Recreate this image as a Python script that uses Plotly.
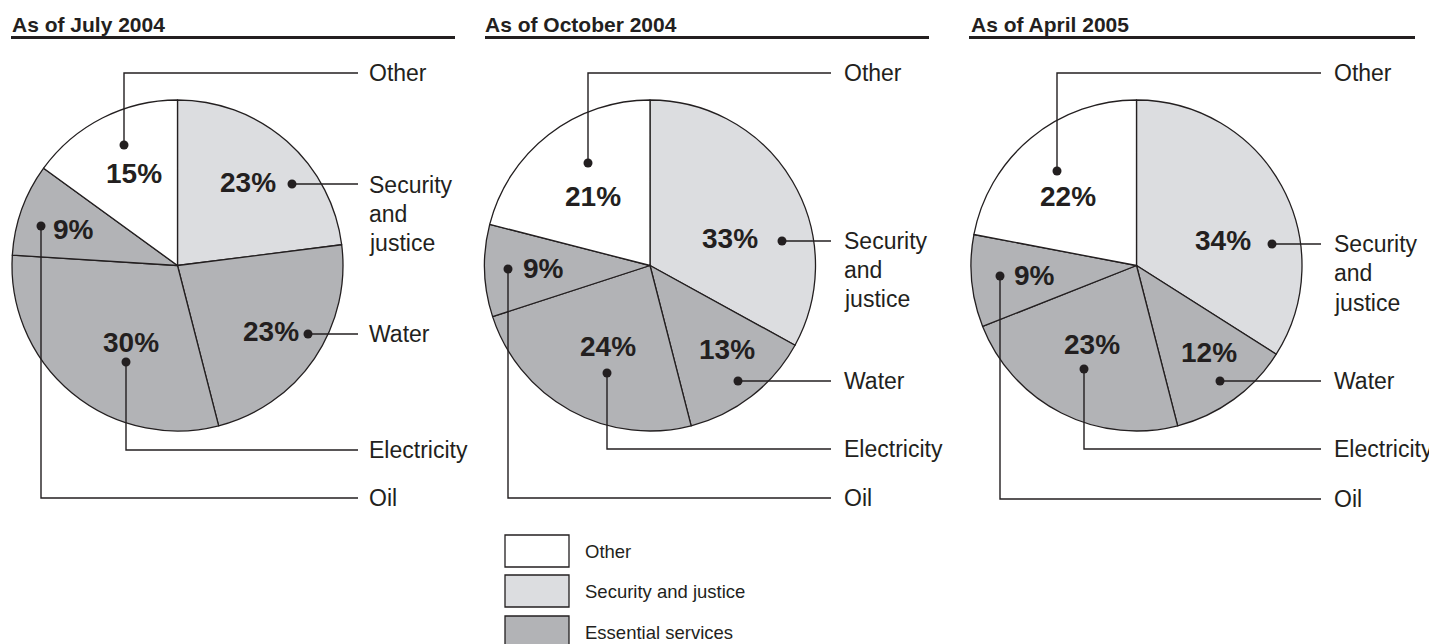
import plotly.graph_objects as go

W, H = 1437, 644
OFF = 8  # page body margin of the rendered html

# ---------------- data ----------------
categories = ["Security and justice", "Water", "Electricity", "Oil", "Other"]
label_text = ["Security<br>and<br>justice", "Water", "Electricity", "Oil", "Other"]
periods = ["As of July 2004", "As of October 2004", "As of April 2005"]
share_jul_2004 = [23, 23, 30, 9, 15]
share_oct_2004 = [33, 13, 24, 9, 21]
share_apr_2005 = [34, 12, 23, 9, 22]
legend_items = ["Other", "Security and justice", "Essential services"]

# ---------------- styles ----------------
INK = "#231f20"
WHITE = "#ffffff"
LIGHT = "#dcdde0"
DARK = "#b2b3b6"
slice_colors = [LIGHT, DARK, DARK, DARK, WHITE]
legend_colors = [WHITE, LIGHT, DARK]
FONT = "Liberation Sans, Arial, Helvetica, sans-serif"

# layout (pixel positions) for each pie
pies = [
    dict(values=share_jul_2004, cx=177.5, cy=265.5, r=165.5,
         title_x=11, rule=(11, 455), line_end=358, label_x=368,
         dots=[(292, 184), (308, 334), (126, 362), (41, 226), (124, 145)],
         elbows=[None, None, 450, 498, 73],
         label_y=[(185, 214, 243), (334,), (450,), (498,), (73,)],
         pct=[(248, 182), (271, 332), (131, 342), (73, 229), (134, 173)]),
    dict(values=share_oct_2004, cx=650, cy=265.5, r=165.5,
         title_x=484, rule=(485, 929), line_end=831, label_x=843,
         dots=[(782, 241), (738, 381), (607, 373), (508, 269), (588, 163)],
         elbows=[None, None, 449, 498, 73],
         label_y=[(241, 270, 299), (381,), (449,), (498,), (73,)],
         pct=[(730, 238), (727, 350), (608, 346), (543, 268), (593, 197)]),
    dict(values=share_apr_2005, cx=1136.5, cy=265.5, r=165.5,
         title_x=970, rule=(969, 1415), line_end=1321, label_x=1333,
         dots=[(1272, 244), (1220, 381), (1084, 369), (1000, 276), (1057, 171)],
         elbows=[None, None, 449, 499, 73],
         label_y=[(244, 273, 303), (381,), (449,), (499,), (73,)],
         pct=[(1223, 240), (1209, 352), (1092, 344), (1034, 275), (1068, 196)]),
]


def px(x):
    return (x - OFF) / W


def py(y):
    return 1 - (y - OFF) / H


fig = go.Figure()
shapes = []
annotations = []

for i, p in enumerate(pies):
    cx, cy, r = p["cx"], p["cy"], p["r"]
    fig.add_trace(go.Pie(
        labels=categories, values=p["values"], sort=False,
        direction="clockwise", rotation=0,
        marker=dict(colors=slice_colors, line=dict(color=INK, width=1.3)),
        textinfo="none", hoverinfo="label+percent", showlegend=False,
        domain=dict(x=[px(cx - r), px(cx + r)], y=[py(cy + r), py(cy - r)]),
    ))
    # title and rule
    annotations.append(dict(
        x=px(p["title_x"] - 1), y=py(24), xref="paper", yref="paper",
        xanchor="left", yanchor="middle", showarrow=False,
        text="<b>" + periods[i] + "</b>",
        font=dict(family=FONT, size=21, color=INK)))
    shapes.append(dict(type="line", xref="paper", yref="paper",
                       x0=px(p["rule"][0]), x1=px(p["rule"][1]),
                       y0=py(37.5), y1=py(37.5),
                       line=dict(color=INK, width=3)))
    for k, cat in enumerate(categories):
        dx, dy = p["dots"][k]
        elbow = p["elbows"][k]
        if elbow is None:
            path = f"M{px(dx)},{py(dy)} L{px(p['line_end'])},{py(dy)}"
        else:
            path = (f"M{px(dx)},{py(dy)} L{px(dx)},{py(elbow)} "
                    f"L{px(p['line_end'])},{py(elbow)}")
        shapes.append(dict(type="path", xref="paper", yref="paper", path=path,
                           line=dict(color=INK, width=1.4), layer="above"))
        rr = 4.5
        shapes.append(dict(type="circle", xref="paper", yref="paper",
                           x0=px(dx - rr), x1=px(dx + rr),
                           y0=py(dy + rr), y1=py(dy - rr),
                           fillcolor=INK, line=dict(color=INK, width=0),
                           layer="above"))
        # category label lines
        for line_txt, ly in zip(label_text[k].split("<br>"), p["label_y"][k]):
            annotations.append(dict(
                x=px(p["label_x"] - 1), y=py(ly), xref="paper", yref="paper",
                xanchor="left", yanchor="middle", showarrow=False,
                text=line_txt, font=dict(family=FONT, size=23, color=INK)))
        # percentage
        tx, ty = p["pct"][k]
        annotations.append(dict(
            x=px(tx), y=py(ty), xref="paper", yref="paper",
            xanchor="center", yanchor="middle", showarrow=False,
            text=f"<b>{p['values'][k]}%</b>",
            font=dict(family=FONT, size=28, color=INK)))

# legend
legend_box_y = [(535, 567), (575, 607), (616, 648)]
for name, col, (y0, y1) in zip(legend_items, legend_colors, legend_box_y):
    shapes.append(dict(type="rect", xref="paper", yref="paper",
                       x0=px(505), x1=px(569), y0=py(y1), y1=py(y0),
                       fillcolor=col, line=dict(color=INK, width=1.3)))
    annotations.append(dict(
        x=px(583), y=py((y0 + y1) / 2), xref="paper", yref="paper",
        xanchor="left", yanchor="middle", showarrow=False, text=name,
        font=dict(family=FONT, size=18.5, color=INK)))

fig.update_layout(
    width=W, height=H, margin=dict(l=0, r=0, t=0, b=0),
    paper_bgcolor="white", plot_bgcolor="white",
    shapes=shapes, annotations=annotations, showlegend=False,
)

fig.write_html("out.html")
